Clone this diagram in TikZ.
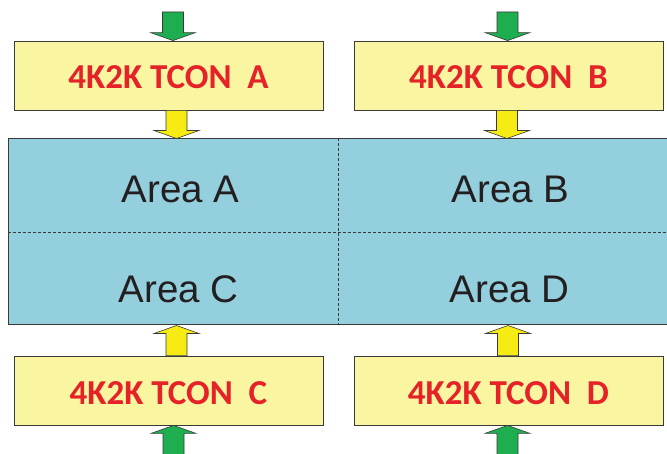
\documentclass[tikz,border=0pt]{standalone}
\usepackage{fontspec}
\setmainfont{Liberation Sans}
\newfontfamily\calib{Carlito}
\usetikzlibrary{calc}
\definecolor{boxyellow}{HTML}{FAF5A0}
\definecolor{panelblue}{HTML}{94CFDD}
\definecolor{tconred}{HTML}{E52228}
\definecolor{arrgreen}{HTML}{1EAE50}
\definecolor{arryellow}{HTML}{F6EC14}
\definecolor{edgegray}{HTML}{3A3A3A}
\definecolor{areablack}{HTML}{231F20}
\tikzset{
  tconbox/.style={draw=edgegray, line width=0.8pt, fill=boxyellow,
    minimum width=309pt, minimum height=69pt, inner sep=0pt,
    text height=27pt, text depth=0pt,
    font=\calib\bfseries\fontsize{35}{40}\selectfont, text=tconred},
  panelbox/.style={draw=edgegray, line width=1pt, fill=panelblue,
    minimum width=662pt, minimum height=186pt, inner sep=0pt},
  areatext/.style={font=\fontsize{38.5}{44}\selectfont, text=areablack, inner sep=0pt},
  divider/.style={draw=edgegray, line width=0.6pt, dash pattern=on 3pt off 2pt},
  blockarrow/.style={draw=edgegray, line width=0.6pt},
}
\newcommand\blockarr[3]{%
  \draw[blockarrow, fill=#1] let \p1=(#2), \p2=(#3), \n1={sign(\y2-\y1)*8} in
  (\x1-10.5pt,\y1) -- (\x2-10.5pt,\y2-\n1) -- (\x2-22.5pt,\y2-\n1) -- (\x2,\y2)
  -- (\x2+22.5pt,\y2-\n1) -- (\x2+10.5pt,\y2-\n1) -- (\x1+10.5pt,\y1) -- cycle;}
\begin{document}
\begin{tikzpicture}[x=1pt,y=-1pt]
\useasboundingbox (0,0) rectangle (667,454);
% panel
\node[panelbox] (panel) at (339,232) {};
\coordinate (vx) at (338,0);
\draw[divider] (panel.north -| vx) -- (panel.south -| vx);
\draw[divider] (panel.west) -- (panel.east);
\node[areatext] (areaA) at (180.5,189.5) {Area A};
\node[areatext] (areaB) at (510.5,189.5) {Area B};
\node[areatext] (areaC) at (178.5,289.5) {Area C};
\node[areatext] (areaD) at (509.5,289.5) {Area D};
% TCON boxes
\node[tconbox] (boxA) at (168.5,75.5) {4K2K TCON~~A};
\node[tconbox] (boxB) at (508.5,75.5) {4K2K TCON~~B};
\node[tconbox] (boxC) at (168.5,390.5) {4K2K TCON~~C};
\node[tconbox] (boxD) at (508.5,390.5) {4K2K TCON~~D};
% arrow axes and free ends
\coordinate (inA) at (173,12);
\coordinate (inB) at (507.5,12);
\coordinate (inC) at (173.5,458);
\coordinate (inD) at (507.5,458);
\coordinate (yA) at (176.5,0);
\coordinate (yB) at (507,0);
\coordinate (yC) at (176.5,0);
\coordinate (yD) at (508,0);
% input arrows (green)
\blockarr{arrgreen}{inA}{inA |- boxA.north}
\blockarr{arrgreen}{inB}{inB |- boxB.north}
\blockarr{arrgreen}{inC}{inC |- boxC.south}
\blockarr{arrgreen}{inD}{inD |- boxD.south}
% output arrows (yellow)
\blockarr{arryellow}{yA |- boxA.south}{yA |- panel.north}
\blockarr{arryellow}{yB |- boxB.south}{yB |- panel.north}
\blockarr{arryellow}{yC |- boxC.north}{yC |- panel.south}
\blockarr{arryellow}{yD |- boxD.north}{yD |- panel.south}
\end{tikzpicture}
\end{document}
